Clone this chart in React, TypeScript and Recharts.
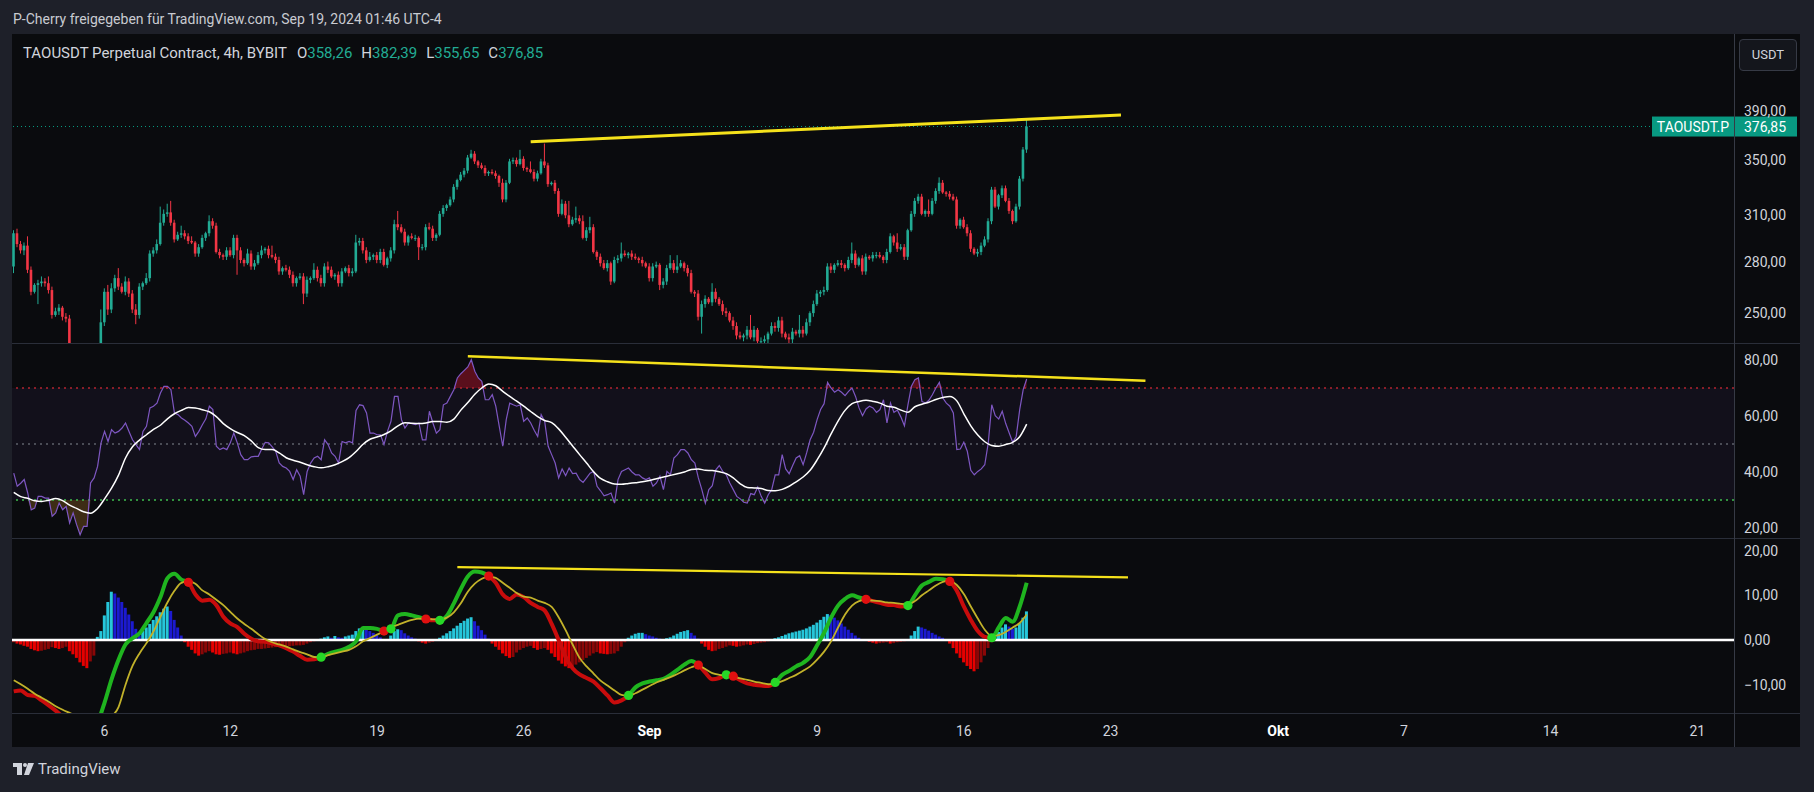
import React from 'react';
import { ComposedChart, Bar, Line, Area, XAxis, YAxis, ReferenceLine, ReferenceArea, Cell } from 'recharts';

const FONT = 'Roboto, "Liberation Sans", Arial, sans-serif';
const BG_PAGE = '#1e2029';
const BG_CHART = '#0a0b0e';
const TEXT = '#d1d4dc';
const UP = '#22ab94';
const DOWN = '#f23645';
const TAG = '#089981';
const YELLOW = '#f5e21b';
const MACD_GREEN = '#1fb51f';
const MACD_RED = '#c80c0c';
const SIGNAL = '#c2b22a';
const CYAN = '#26c6da';
const BLUE = '#1c1ad0';
const RED = '#e60000';
const MAROON = '#8a0707';

// ---- price (4h candles, Aug 1 16:00 -> Sep 19 00:00) ----
const firstOpen = 277;
const closes = [
  298, 291, 287, 290, 275, 262, 266, 267, 268, 267,
  263, 249, 251, 253, 248, 247, 226, 218, 210, 203,
  212, 220, 215, 224, 230, 245, 262, 252, 264, 270,
  265, 262, 268, 261, 252, 249, 265, 267, 270, 285,
  287, 291, 305, 311, 312, 305, 294, 297, 298, 296,
  293, 292, 285, 289, 295, 298, 306, 303, 286, 284,
  283, 287, 284, 295, 287, 281, 279, 285, 277, 279,
  284, 287, 288, 284, 283, 281, 274, 276, 275, 272,
  267, 270, 271, 261, 269, 270, 275, 270, 267, 277,
  275, 271, 272, 267, 274, 276, 273, 274, 292, 293,
  287, 281, 283, 284, 281, 286, 278, 282, 287, 304,
  302, 299, 292, 296, 295, 295, 289, 289, 302, 301,
  295, 297, 311, 315, 317, 321, 330, 335, 339, 342,
  352, 355, 349, 346, 344, 340, 341, 340, 338, 333,
  321, 333, 349, 350, 347, 351, 344, 343, 341, 336,
  340, 349, 346, 332, 333, 327, 311, 318, 310, 304,
  307, 308, 306, 295, 300, 302, 286, 283, 279, 276,
  279, 268, 281, 282, 285, 284, 285, 283, 282, 281,
  279, 277, 270, 277, 278, 266, 268, 276, 279, 275,
  277, 279, 276, 273, 262, 261, 248, 255, 258, 256,
  262, 258, 255, 251, 250, 246, 243, 238, 237, 238,
  241, 237, 241, 235, 235, 236, 239, 243, 242, 246,
  239, 237, 236, 240, 239, 241, 239, 245, 250, 255,
  261, 262, 263, 277, 275, 278, 279, 278, 276, 281,
  285, 278, 282, 274, 283, 282, 284, 284, 283, 281,
  286, 296, 292, 288, 289, 283, 300, 311, 320, 323,
  311, 313, 311, 320, 327, 333, 326, 325, 323, 321,
  303, 307, 302, 298, 288, 285, 286, 290, 294, 306,
  328, 316, 324, 329, 320, 313, 306, 316, 336, 358.26,
  376.85,
];
const wickUp = [
  2, 3, 2, 2, 6, 2, 1, 2, 3, 2,
  4, 2, 2, 2, 1, 2, 2, 3, 3, 4,
  4, 3, 4, 3, 3, 7, 2, 4, 3, 2,
  6, 2, 3, 2, 2, 3, 2, 1, 3, 2,
  2, 3, 11, 3, 6, 8, 2, 2, 5, 2,
  2, 3, 1, 2, 2, 1, 4, 2, 2, 2,
  1, 2, 2, 2, 2, 2, 1, 3, 2, 2,
  2, 3, 1, 2, 6, 2, 2, 1, 2, 2,
  2, 1, 2, 2, 2, 1, 4, 2, 2, 2,
  3, 2, 1, 2, 2, 1, 2, 2, 5, 2,
  2, 2, 3, 1, 2, 2, 2, 1, 2, 3,
  9, 2, 2, 1, 2, 2, 1, 2, 2, 3,
  2, 1, 2, 2, 1, 2, 2, 1, 2, 2,
  2, 3, 2, 1, 2, 2, 1, 2, 2, 1,
  3, 2, 2, 2, 2, 7, 2, 1, 6, 2,
  2, 2, 14, 2, 1, 2, 2, 3, 2, 10,
  2, 8, 2, 4, 2, 7, 2, 1, 2, 2,
  2, 1, 2, 2, 7, 2, 1, 2, 2, 1,
  2, 1, 2, 2, 2, 1, 2, 2, 5, 2,
  7, 2, 1, 2, 2, 1, 2, 2, 2, 1,
  5, 2, 1, 2, 2, 1, 2, 2, 2, 1,
  2, 8, 2, 1, 2, 2, 1, 2, 2, 2,
  2, 1, 2, 2, 1, 8, 2, 2, 1, 2,
  2, 1, 2, 2, 2, 1, 2, 2, 1, 2,
  7, 2, 1, 2, 2, 1, 2, 2, 2, 1,
  2, 2, 1, 6, 2, 2, 1, 2, 2, 2,
  2, 1, 8, 2, 2, 4, 2, 1, 2, 2,
  2, 1, 2, 2, 2, 1, 2, 2, 2, 2,
  2, 2, 1, 2, 2, 2, 1, 2, 2, 2,
  5.54,
];
const wickDn = [
  4, 2, 2, 3, 2, 2, 1, 11, 2, 2,
  2, 2, 1, 2, 2, 2, 5, 6, 5, 8,
  5, 4, 6, 4, 5, 4, 2, 3, 2, 2,
  2, 1, 2, 2, 2, 5, 2, 2, 1, 2,
  2, 2, 1, 2, 2, 2, 2, 1, 2, 2,
  2, 1, 2, 2, 1, 2, 2, 2, 1, 2,
  2, 2, 1, 2, 15, 2, 2, 1, 2, 2,
  1, 2, 2, 2, 1, 2, 2, 2, 1, 2,
  2, 2, 1, 6, 2, 2, 1, 2, 2, 2,
  2, 1, 2, 2, 2, 1, 2, 2, 1, 2,
  2, 2, 1, 2, 2, 2, 1, 2, 2, 2,
  2, 1, 2, 2, 1, 2, 8, 2, 2, 1,
  2, 2, 1, 2, 2, 1, 2, 2, 1, 2,
  2, 1, 2, 2, 1, 2, 2, 1, 2, 3,
  2, 2, 1, 2, 2, 1, 2, 2, 1, 2,
  2, 1, 2, 2, 1, 2, 2, 1, 2, 2,
  1, 2, 2, 1, 2, 2, 1, 2, 2, 1,
  2, 2, 1, 2, 2, 1, 2, 2, 1, 2,
  2, 1, 2, 2, 1, 3, 2, 2, 1, 2,
  2, 1, 2, 2, 1, 2, 2, 9, 2, 1,
  2, 2, 1, 2, 2, 1, 2, 2, 1, 2,
  2, 1, 2, 2, 1, 2, 2, 1, 2, 2,
  2, 1, 2, 2, 1, 2, 2, 1, 2, 2,
  1, 2, 2, 1, 2, 2, 1, 2, 2, 1,
  2, 2, 1, 2, 2, 1, 2, 2, 1, 2,
  2, 1, 2, 2, 1, 2, 2, 1, 2, 2,
  1, 2, 2, 1, 2, 2, 1, 2, 2, 1,
  2, 2, 1, 2, 2, 1, 2, 2, 1, 2,
  2, 1, 2, 2, 1, 2, 2, 1, 2, 2,
  2.61,
];

// ---- RSI (4h) ----
const rsiValues = [
  39.6, 34.9, 36, 37.3, 32.5, 26.5, 27.1, 31.3, 31.3, 30.7, 30.7, 24.2, 25.4, 28.9, 26.5, 27.7, 21.8, 25.4, 21.2, 17.6, 20.6, 20.6, 36.1, 37.9, 42,
  50.4, 54.5, 50.9, 55.1, 53.9, 54.5, 55.7, 57.5, 54.5, 51.5, 49.8, 48, 54.5, 56.3, 62.9, 63.5, 64.6, 68.2, 70.6, 70.6, 69.4, 61.1, 60.5, 59.3, 58.5,
  57.5, 56.3, 52.7, 54.5, 56.9, 59, 63.5, 62.3, 49.2, 48, 48.6, 48, 50.4, 53.9, 50.4, 46.2, 44.4, 44.4, 45.4, 45.6, 45.6, 48.2, 50.6, 50.4, 49,
  47.4, 43.2, 42, 41.4, 40.2, 37.3, 40.8, 38.5, 31.9, 40.2, 43.2, 45, 45.6, 44.4, 51.5, 49.8, 46.8, 45.6, 43.2, 50.9, 50.4, 50.9, 50.4, 62, 64,
  63.7, 61.1, 53.9, 53.9, 53.3, 53.3, 49.8, 54.5, 58.1, 67, 67, 58.7, 55.7, 57.5, 57.3, 56.9, 57.5, 51.5, 51.5, 61.7, 57.5, 53.9, 55.1, 64, 64.6,
  67, 69.4, 73.6, 75.1, 76.3, 77.5, 80.1, 76, 73.6, 72.4, 65.8, 65.8, 67.6, 63.5, 56.3, 49.2, 58.7, 64.6, 64, 63.5, 64, 58.1, 59.3, 57.5, 54.9,
  52.7, 60.5, 58.1, 49.2, 46.2, 43.2, 37.9, 41.1, 38.7, 41.4, 39.4, 39.6, 37.3, 36.3, 37.9, 39.6, 40.2, 34.9, 33.3, 31.5, 31.9, 32.5, 28.9, 37.3, 40.2,
  40.8, 41.4, 40, 39, 39, 37.9, 37.3, 37.9, 34.9, 36.1, 38.5, 33.7, 40.2, 39, 45, 46.2, 48, 48, 46.8, 44.4, 43.2, 37.9, 33.7, 28.9, 33.7,
  35.1, 40.8, 42.3, 40.2, 39, 36.1, 33.7, 31.3, 30.4, 29.2, 28.9, 32.3, 31.9, 34.6, 31.3, 28.9, 31.9, 33.7, 39, 39, 46.2, 41.1, 39.4, 42.3, 45,
  45.8, 42.6, 46.8, 51.5, 54.2, 58.7, 62.3, 64.4, 72, 70, 68.5, 69.4, 68.5, 67.3, 68.8, 70, 67, 62.9, 60.1, 62.5, 63.5, 62.9, 61.3, 62.3, 65.8,
  57.5, 64.6, 61.3, 62.1, 59.6, 56.5, 64, 70.6, 73, 73.6, 65.2, 64.6, 65.6, 67.6, 70, 72, 66.4, 64.6, 63.5, 61.1, 48, 48.2, 50.6, 47.4, 40.6,
  39, 40.2, 41.1, 42.6, 50.4, 64, 60.1, 58.9, 61.7, 57.3, 53.9, 50.6, 52.7, 62.3, 69.4, 73.2,
];
// RSI moving average, sampled every second 4h bar (8h)
const rsiMaValues = [
  32.7, 31.2, 30.6, 29.7, 29.5, 29.9, 30.5, 29.8, 28.2, 27,
  25.8, 25.3, 27, 30.4, 34.2, 38.9, 45, 49, 51.4, 53.3,
  55.2, 56.7, 59, 60.8, 62, 63, 62.9, 62.2, 61.5, 59.8,
  57.3, 55.5, 54.1, 53, 51.1, 48.7, 48, 48, 46.8, 45.1,
  44.2, 43.5, 42.6, 41.9, 41.5, 41.9, 42.6, 43.7, 45.1, 47.3,
  49.9, 51.7, 52.5, 53.4, 54.7, 56.5, 57.6, 57.4, 57.3, 57.5,
  58, 58, 57.8, 58.9, 62.1, 64.8, 67.8, 70, 71.4, 70.8,
  68.8, 67, 65.3, 63.5, 61.6, 59.8, 58.4, 57.6, 55.4, 52.4,
  49.3, 46.2, 43.2, 40.1, 37.7, 36.5, 35.7, 35.6, 35.9, 36.2,
  36.5, 37, 37.6, 38.2, 38.8, 39.4, 40, 40.9, 41.1, 40.6,
  40.5, 40.1, 39.4, 37.9, 35.8, 34.5, 34.3, 34.1, 33.4, 33.3,
  33.8, 34.9, 36.5, 38.2, 40.6, 44.3, 48.6, 53.6, 58.2, 62,
  64.4, 65.2, 65.6, 65.2, 64.6, 63.5, 63.1, 62.1, 61.3, 63.3,
  64.2, 64.9, 65.9, 66.6, 67, 65.4, 60.8, 56.5, 53.2, 50.8,
  49.5, 49.2, 49.8, 50.6, 52.6, 57.1,
];

// ---- MACD (line + signal sampled every 8h, histogram per 4h) ----
const macdValues = [
  -11.5, -11.3, -12.3, -12.5, -13.5, -14.6, -15.8, -17.2, -18.5, -20,
  -21, -21, -18.5, -14, -8.8, -4.4, -1, 0.4, 1.5, 3.8,
  6.2, 9.6, 13.8, 14.8, 13.5, 12.9, 10.2, 8.8, 9, 7.8,
  5.2, 3.7, 2.9, 1.4, 0.3, -0.3, -0.4, -0.8, -1.2, -1.8,
  -2.6, -3.6, -4.4, -4.3, -3.85, -3.1, -2.6, -2.2, -1.5, -0.3,
  2.7, 2.7, 2.5, 2.0, 2.5, 5.5, 5.8, 5.5, 5.1, 4.7,
  4.4, 4.4, 5.4, 8.2, 11.4, 14.2, 15.3, 15.1, 14.3, 12.8,
  10.2, 9.2, 10.2, 9.6, 8.3, 7.4, 6.6, 3.6, 0, -3.8,
  -6.3, -7.7, -8.5, -9.3, -10.8, -12.4, -14, -13.5, -12.4, -10.6,
  -9.7, -9.3, -9, -8.7, -7.8, -6.7, -5.5, -4.7, -5.6, -7.3,
  -8.8, -8.5, -7.8, -8.1, -9, -9.7, -10, -10.2, -10.3, -9.5,
  -7.8, -6.9, -5.9, -5.1, -3.8, -1.2, 1.6, 5, 7.7, 9.2,
  10, 9.5, 9.1, 8.7, 8.3, 7.9, 7.8, 7.5, 7.7, 10,
  12.2, 13, 13.7, 13.6, 13.1, 11, 7.5, 4.5, 2, 0.7,
  0.5, 2.8, 4.9, 4.1, 7.5, 12.8,
];
const signalValues = [
  -9, -9.9, -10.9, -12, -12.9, -13.8, -14.8, -15.6, -16.3, -17,
  -17.5, -17.8, -17.8, -17.5, -17, -15, -10, -5.8, -3, -0.7,
  1.9, 5.2, 8.4, 11, 12.8, 13.1, 12.6, 11.1, 10.2, 9,
  7.8, 6.3, 4.8, 3.6, 2.5, 1.3, 0.2, -0.5, -1, -1.5,
  -2.1, -2.7, -3.2, -3.8, -3.9, -3.4, -3, -2.6, -2.2, -1.4,
  -0.3, 0.45, 1.2, 1.9, 2.8, 3.4, 4, 4.5, 4.8, 4.8,
  4.6, 4.6, 5, 6.2, 8.2, 10.8, 12.6, 13.7, 14.2, 13.9,
  12.8, 11.7, 10.5, 9.7, 9.5, 8.8, 8.3, 7.4, 5.1, 2.2,
  -1, -4, -5.9, -7.5, -9.1, -10.2, -11.3, -12.3, -12.5, -11.9,
  -11.1, -10.3, -9.5, -8.9, -8.3, -7.6, -6.8, -6.1, -5.7, -6.5,
  -7.4, -7.8, -8, -8.2, -8.6, -8.9, -9.3, -9.6, -9.9, -9.7,
  -9.2, -8.5, -7.8, -6.9, -5.9, -4.4, -2.6, -0.3, 2.8, 5.7,
  7.7, 8.7, 9, 8.8, 8.7, 8.4, 8.3, 8.1, 8, 8.7,
  10, 11.1, 12.2, 13, 13.3, 12.3, 10.3, 7.5, 4.8, 2.3,
  0.9, 1.1, 1.8, 2.8, 3.8, 5.7,
];
const histValues = [
  -0.5, -0.8, -1, -1.3, -1.5, -2, -2.3, -2.5, -2.4, -2.2, -2, -1.6, -1.8, -2, -1.8, -1.5, -2.5, -3.2, -4, -5, -5.8, -6.3, -4.8, -3.5, 0.7,
  2, 5.5, 8.5, 10.8, 10.4, 9.5, 8.5, 7.2, 5.7, 4.2, 2.5, 1, 2, 2.8, 3.6, 4.5, 5.3, 6.2, 7, 7.5, 6.5, 4.5, 2.8, 1, -0.5,
  -1.5, -2.2, -3, -3.5, -3.2, -2.8, -2.5, -2.8, -3.2, -3.3, -3.1, -3, -2.8, -3, -3.2, -3, -2.8, -2.5, -2.3, -2.2, -2, -2, -1.9, -1.8, -1.7,
  -1.6, -1.5, -1.5, -1.5, -1.4, -1.3, -1.2, -1.2, -1.1, -0.8, -0.5, -0.3, 0.2, 0.3, 0.6, 0.8, 0.5, 0.9, 0.6, 0.5, 0.8, 1, 1.2, 2, 2.6,
  2.7, 2.4, 2, 1.6, 1.1, 0.6, 0.2, -0.1, 1, 2, 2.4, 2.2, 1.5, 1, 0.6, 0.3, -0.3, -0.6, -0.8, -0.6, -0.4, -0.2, 0.5, 1, 1.5,
  2, 2.6, 3.2, 3.8, 4.3, 4.8, 5.1, 4.2, 3.2, 2.2, 1.2, 0.3, -0.8, -1.5, -2.2, -3, -3.6, -4, -3.8, -2.8, -2.2, -1.8, -1.5, -1.3, -1.8,
  -2.2, -2, -1.8, -2.2, -3, -3.8, -4.6, -5.3, -5.9, -6.3, -6, -5.5, -5, -4.5, -4, -3.5, -3, -2.7, -3, -3.1, -3.2, -3.1, -3, -2.5, -1.5,
  -0.5, 0.5, 1, 1.4, 1.6, 1.6, 1.3, 1, 0.8, 0.5, 0.3, 0.2, 0.4, 0.6, 1, 1.4, 1.8, 2, 2.2, 1.6, 1, 0.3, -0.8, -1.5, -2.2,
  -2.5, -2.4, -2, -1.8, -1.5, -1.2, -1.3, -1.5, -1.4, -1.2, -1, -1.1, -0.9, -0.7, -0.6, -0.5, -0.3, 0, 0.4, 0.6, 0.9, 1.2, 1.5, 1.7, 1.9,
  2.1, 2.3, 2.6, 3, 3.4, 3.9, 4.5, 5.2, 5.8, 5.6, 5, 4.4, 3.7, 3, 2.3, 1.6, 1, 0.5, 0.1, -0.2, -0.4, -0.6, -0.8, -0.7, -0.6,
  -0.5, -0.8, -0.7, -0.5, -0.4, -0.3, -0.2, 1, 2, 3, 2.8, 2.5, 2.1, 1.6, 1.2, 0.8, 0.5, 0.2, -0.8, -1.8, -3, -4, -5, -5.8, -6.5,
  -7, -6.5, -5, -3.5, -1.8, -0.5, 1, 1.8, 2.8, 3.5, 3, 2.5, 2.8, 3.8, 5, 6.4,
];

// ---- time axis (days after Aug 1) ----
const tickDays = [5, 11, 18, 25, 31, 39, 46, 53, 61, 67, 74, 81];
const tickLabels = ['6', '12', '19', '26', 'Sep', '9', '16', '23', 'Okt', '7', '14', '21'];
const monthLabels = ['Sep', 'Okt'];
const LAST_DAY = 82.75; // right edge of the time scale

// ---- drawn trend lines (slot = 4h bar index, value in pane units) ----
const priceTrend = [{ slot: 148, value: 364.5 }, { slot: 317, value: 386.5 }];
const rsiTrend = [{ slot: 130, value: 81.3 }, { slot: 324, value: 72.6 }];
const macdTrend = [{ slot: 127, value: 16.3 }, { slot: 319, value: 14.0 }];

const priceTicks = [250, 280, 310, 350, 390];
const rsiTicks = [20, 40, 60, 80];
const macdTicks = [-10, 0, 10, 20];
const priceDomain = [234.1, 461.9];
const rsiDomain = [16.43, 86.07];
const macdDomain = [-16.33, 22.82];
const rsiLevels = { upper: 70, mid: 50, lower: 30 };

// ---- build table ----
const FIRST_HOUR_SLOTS = 4; // first bar opens 16:00 on Aug 1 -> 4 bars after midnight
const SLOT_COUNT = Math.round(LAST_DAY * 6 - FIRST_HOUR_SLOTS);
const tickSlots = tickDays.map((d) => d * 6 - FIRST_HOUR_SLOTS);
const tickLabelMap = new Map(tickSlots.map((s, i) => [s, tickLabels[i]]));

type Row = { [k: string]: any };
const rows: Row[] = Array.from({ length: SLOT_COUNT }, (_, s) => {
  const r: Row = { slot: s };
  if (s < closes.length) {
    const open = s === 0 ? firstOpen : closes[s - 1];
    const close = closes[s];
    r.open = open;
    r.close = close;
    r.high = Math.max(open, close) + wickUp[s];
    r.low = Math.min(open, close) - wickDn[s];
    r.range = [r.low, r.high];
    r.rsi = rsiValues[s];
    r.hist = histValues[s];
    if (s % 2 === 0) {
      r.rsiMa = rsiMaValues[s / 2];
      r.macd = macdValues[s / 2];
      r.signal = signalValues[s / 2];
    }
  }
  return r;
});

const fmt = (v: number) => v.toFixed(2).replace('.', ',').replace('-', '\u2212');

// MACD / signal crossings
const crossings: { pos: number; idx: number; up: boolean }[] = [];
for (let k = 1; k < macdValues.length; k++) {
  const d0 = macdValues[k - 1] - signalValues[k - 1];
  const d1 = macdValues[k] - signalValues[k];
  if (d0 >= 0 !== d1 >= 0) {
    const frac = Math.abs(d0) / (Math.abs(d0) + Math.abs(d1) || 1);
    crossings.push({ pos: (k - 1 + frac) * 2, idx: Math.abs(d0) <= Math.abs(d1) ? k - 1 : k, up: d1 >= 0 });
  }
}
const crossDotMap = new Map(crossings.map((c) => [c.idx * 2, c.up ? '#27d827' : '#e01010']));
const lastMacdSlot = (macdValues.length - 1) * 2;

const histColor = (s: number) => {
  const h = histValues[s];
  const p = s > 0 ? histValues[s - 1] : h;
  if (h >= 0) return h >= p ? CYAN : BLUE;
  return h < p ? RED : MAROON;
};

// ---- shapes ----
const Candle = (props: any) => {
  const { x, width, payload } = props;
  let { y, height } = props;
  if (!payload || payload.high == null || !isFinite(y) || !isFinite(height)) return <g />;
  if (height < 0) {
    y += height;
    height = -height;
  }
  const { open, close, high, low } = payload;
  const lh = Math.log(high);
  const ll = Math.log(low);
  const span = lh - ll || 1;
  const toY = (v: number) => y + (height * (lh - Math.log(v))) / span;
  const cx = x + width / 2;
  const top = toY(Math.max(open, close));
  const bot = toY(Math.min(open, close));
  const color = close >= open ? UP : DOWN;
  return (
    <g>
      <line x1={cx} x2={cx} y1={y} y2={y + height} stroke={color} strokeWidth={1} />
      <rect x={cx - 1.3} y={top} width={2.6} height={Math.max(1, bot - top)} fill={color} />
    </g>
  );
};

const PriceTag = (props: any) => {
  const vb = props.viewBox || {};
  if (vb.y == null) return null;
  const y = vb.y;
  const right = vb.x + vb.width;
  return (
    <g style={{ fontFamily: FONT }}>
      <rect x={right - 82} y={y - 10} width={82} height={20} fill={TAG} />
      <text x={right - 41} y={y} textAnchor="middle" dominantBaseline="central" fill="#ffffff" fontSize={14}>
        TAOUSDT.P
      </text>
      <rect x={right} y={y - 10} width={63} height={20} fill={TAG} />
      <text x={right + 10} y={y} dominantBaseline="central" fill="#ffffff" fontSize={14}>
        {fmt(closes[closes.length - 1])}
      </text>
    </g>
  );
};

const TimeTick = (props: any) => {
  const { x, y, payload } = props;
  const label = tickLabelMap.get(payload.value) || '';
  const bold = monthLabels.includes(label);
  return (
    <text
      x={x}
      y={y + 18}
      textAnchor="middle"
      dominantBaseline="central"
      fill={bold ? '#ffffff' : TEXT}
      fontSize={14}
      fontWeight={bold ? 700 : 400}
      fontFamily={FONT}
    >
      {label}
    </text>
  );
};

const renderCrossDot = (p: any) => {
  const col = crossDotMap.get(p?.payload?.slot);
  if (!col || p.cx == null || p.cy == null || !isFinite(p.cy)) return <g key={`cd-${p.index}`} />;
  return <circle key={`cd-${p.index}`} cx={p.cx} cy={p.cy} r={4.6} fill={col} />;
};

// ---- layout ----
const CHART_LEFT = 12;
const CHART_W = 1788;
const AXIS_W = 66;
const PRICE_TOP = 34;
const PRICE_H = 309;
const RSI_TOP = 343;
const RSI_H = 195;
const MACD_TOP = 538;
const MACD_H = 175;
const TIME_H = 34;
const SEP = '#2a2e39';

const yTickStyle = { fill: TEXT, fontSize: 14, fontFamily: FONT };
const margin = { top: 0, right: 0, bottom: 0, left: 0 };

export default function App() {
  const last = rows[closes.length - 1];
  const stops: React.ReactNode[] = [];
  let green = macdValues[0] - signalValues[0] >= 0;
  stops.push(<stop key="s0" offset={0} stopColor={green ? MACD_GREEN : MACD_RED} />);
  crossings.forEach((c, i) => {
    const off = c.pos / lastMacdSlot;
    stops.push(<stop key={`a${i}`} offset={off} stopColor={green ? MACD_GREEN : MACD_RED} />);
    stops.push(<stop key={`b${i}`} offset={off} stopColor={c.up ? MACD_GREEN : MACD_RED} />);
    green = c.up;
  });
  stops.push(<stop key="s1" offset={1} stopColor={green ? MACD_GREEN : MACD_RED} />);

  return (
    <div
      style={{
        position: 'absolute',
        left: 0,
        top: 0,
        width: 1814,
        height: 792,
        background: BG_PAGE,
        fontFamily: FONT,
        overflow: 'hidden',
      }}
    >
      <div style={{ position: 'absolute', left: 13, top: 9, fontSize: 14, color: '#c9cbd1', lineHeight: '20px' }}>
        P-Cherry freigegeben für TradingView.com, Sep 19, 2024 01:46 UTC-4
      </div>

      <div
        style={{
          position: 'absolute',
          left: CHART_LEFT,
          top: PRICE_TOP,
          width: CHART_W,
          height: PRICE_H + RSI_H + MACD_H + TIME_H,
          background: BG_CHART,
        }}
      />

      {/* price pane */}
      <div style={{ position: 'absolute', left: CHART_LEFT, top: PRICE_TOP }}>
        <ComposedChart width={CHART_W} height={PRICE_H} data={rows} margin={margin} barCategoryGap={0}>
          <XAxis dataKey="slot" type="category" scale="band" hide />
          <YAxis
            orientation="right"
            width={AXIS_W}
            scale="log"
            type="number"
            domain={priceDomain}
            allowDataOverflow
            ticks={priceTicks}
            tickFormatter={fmt}
            axisLine={false}
            tickLine={false}
            tickSize={0}
            tickMargin={10}
            tick={yTickStyle}
          />
          <ReferenceLine y={closes[closes.length - 1]} stroke={TAG} strokeDasharray="1 3" strokeWidth={1} label={<PriceTag />} />
          <Bar dataKey="range" barSize={3} shape={<Candle />} isAnimationActive={false} />
          <ReferenceLine
            segment={[
              { x: priceTrend[0].slot, y: priceTrend[0].value },
              { x: priceTrend[1].slot, y: priceTrend[1].value },
            ]}
            stroke={YELLOW}
            strokeWidth={3}
            ifOverflow="visible"
          />
        </ComposedChart>
      </div>

      {/* RSI pane */}
      <div style={{ position: 'absolute', left: CHART_LEFT, top: RSI_TOP }}>
        <ComposedChart width={CHART_W} height={RSI_H} data={rows} margin={margin}>
          <XAxis dataKey="slot" type="category" scale="band" hide />
          <YAxis
            orientation="right"
            width={AXIS_W}
            type="number"
            domain={rsiDomain}
            allowDataOverflow
            ticks={rsiTicks}
            tickFormatter={fmt}
            axisLine={false}
            tickLine={false}
            tickSize={0}
            tickMargin={10}
            tick={yTickStyle}
          />
          <ReferenceArea y1={rsiLevels.lower} y2={rsiLevels.upper} fill="#7e57c2" fillOpacity={0.07} stroke="none" />
          <ReferenceLine y={rsiLevels.upper} stroke="#b3242f" strokeDasharray="2 4" strokeWidth={1.5} />
          <ReferenceLine y={rsiLevels.mid} stroke="#5d606b" strokeDasharray="2 4" strokeWidth={1.5} />
          <ReferenceLine y={rsiLevels.lower} stroke="#3fbf4f" strokeDasharray="2 4" strokeWidth={1.5} />
          <Area
            dataKey={(r: Row) => (r.rsi == null ? null : [rsiLevels.upper, Math.max(rsiLevels.upper, r.rsi)])}
            stroke="none"
            fill="#6e1020"
            fillOpacity={0.8}
            type="linear"
            isAnimationActive={false}
          />
          <Area
            dataKey={(r: Row) => (r.rsi == null ? null : [Math.min(rsiLevels.lower, r.rsi), rsiLevels.lower])}
            stroke="none"
            fill="#4a3418"
            fillOpacity={0.8}
            type="linear"
            isAnimationActive={false}
          />
          <Line dataKey="rsi" stroke="#7e57c2" strokeWidth={1.2} dot={false} type="linear" isAnimationActive={false} />
          <Line dataKey="rsiMa" stroke="#ffffff" strokeWidth={1.5} dot={false} type="monotone" connectNulls isAnimationActive={false} />
          <ReferenceLine
            segment={[
              { x: rsiTrend[0].slot, y: rsiTrend[0].value },
              { x: rsiTrend[1].slot, y: rsiTrend[1].value },
            ]}
            stroke={YELLOW}
            strokeWidth={2.5}
            ifOverflow="visible"
          />
        </ComposedChart>
      </div>

      {/* MACD pane + time axis */}
      <div style={{ position: 'absolute', left: CHART_LEFT, top: MACD_TOP }}>
        <ComposedChart width={CHART_W} height={MACD_H + TIME_H} data={rows} margin={margin} barCategoryGap={0}>
          <defs>
            <linearGradient id="macdGrad" x1="0" y1="0" x2="1" y2="0">
              {stops}
            </linearGradient>
          </defs>
          <XAxis
            dataKey="slot"
            type="category"
            scale="band"
            height={TIME_H}
            ticks={tickSlots}
            interval={0}
            tick={<TimeTick />}
            tickSize={0}
            tickMargin={0}
            axisLine={false}
            tickLine={false}
          />
          <YAxis
            orientation="right"
            width={AXIS_W}
            type="number"
            domain={macdDomain}
            allowDataOverflow
            ticks={macdTicks}
            tickFormatter={fmt}
            axisLine={false}
            tickLine={false}
            tickSize={0}
            tickMargin={10}
            tick={yTickStyle}
          />
          <Bar dataKey="hist" barSize={3} isAnimationActive={false}>
            {rows.map((r, s) => (
              <Cell key={`h${s}`} fill={r.hist == null ? 'none' : histColor(s)} />
            ))}
          </Bar>
          <ReferenceLine y={0} stroke="#ffffff" strokeWidth={2.5} />
          <Line
            dataKey="macd"
            stroke="url(#macdGrad)"
            strokeWidth={4}
            dot={false}
            type="monotone"
            connectNulls
            isAnimationActive={false}
          />
          <Line dataKey="signal" stroke={SIGNAL} strokeWidth={1.8} dot={false} type="monotone" connectNulls isAnimationActive={false} />
          <Line
            dataKey="macd"
            stroke="none"
            dot={renderCrossDot}
            activeDot={false}
            type="monotone"
            connectNulls
            isAnimationActive={false}
          />
          <ReferenceLine
            segment={[
              { x: macdTrend[0].slot, y: macdTrend[0].value },
              { x: macdTrend[1].slot, y: macdTrend[1].value },
            ]}
            stroke={YELLOW}
            strokeWidth={2.2}
            ifOverflow="visible"
          />
        </ComposedChart>
      </div>

      {/* pane separators */}
      {[RSI_TOP, MACD_TOP, MACD_TOP + MACD_H].map((yy) => (
        <div key={yy} style={{ position: 'absolute', left: CHART_LEFT, top: yy, width: CHART_W, height: 1, background: SEP }} />
      ))}
      <div
        style={{
          position: 'absolute',
          left: CHART_LEFT + CHART_W - AXIS_W,
          top: PRICE_TOP,
          width: 1,
          height: PRICE_H + RSI_H + MACD_H + TIME_H,
          background: '#363a45',
        }}
      />

      {/* legend */}
      <div style={{ position: 'absolute', left: 23, top: 44, fontSize: 15, color: TEXT, lineHeight: '18px', whiteSpace: 'pre' }}>
        <span>TAOUSDT Perpetual Contract, 4h, BYBIT</span>
        <span style={{ marginLeft: 10 }}>O</span>
        <span style={{ color: UP }}>{fmt(last.open)}</span>
        <span style={{ marginLeft: 9 }}>H</span>
        <span style={{ color: UP }}>{fmt(last.high)}</span>
        <span style={{ marginLeft: 9 }}>L</span>
        <span style={{ color: UP }}>{fmt(last.low)}</span>
        <span style={{ marginLeft: 9 }}>C</span>
        <span style={{ color: UP }}>{fmt(last.close)}</span>
      </div>

      {/* currency button */}
      <div
        style={{
          position: 'absolute',
          left: 1739,
          top: 39,
          width: 56,
          height: 30,
          border: '1px solid #363a45',
          borderRadius: 4,
          background: '#14161c',
          color: TEXT,
          fontSize: 13,
          lineHeight: '30px',
          textAlign: 'center',
        }}
      >
        USDT
      </div>

      {/* footer */}
      <div style={{ position: 'absolute', left: 13, top: 760, display: 'flex', alignItems: 'center', color: TEXT, fontSize: 15 }}>
        <svg width={22} height={14} viewBox="0 0 22 14" style={{ marginRight: 3 }}>
          <rect x={0} y={1} width={9} height={4} fill={TEXT} />
          <rect x={4} y={1} width={5} height={12} fill={TEXT} />
          <circle cx={12} cy={3} r={2} fill={TEXT} />
          <polygon points="15,1 21,1 16,13 11,13" fill={TEXT} />
        </svg>
        <span>TradingView</span>
      </div>
    </div>
  );
}
